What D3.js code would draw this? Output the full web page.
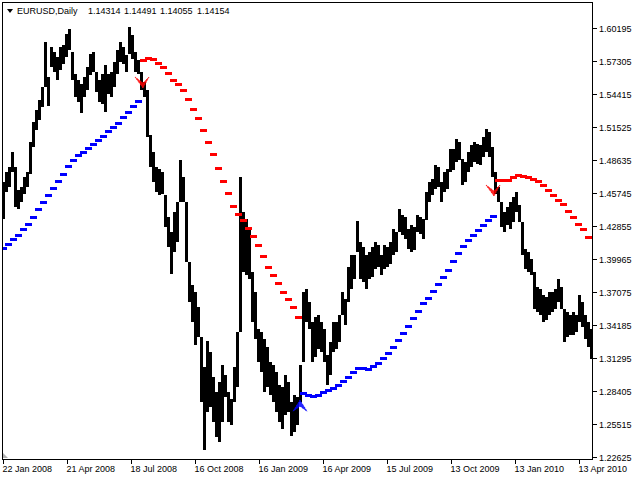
<!DOCTYPE html>
<html><head><meta charset="utf-8">
<script src="https://cdn.jsdelivr.net/npm/d3@7"></script>
<style>html,body{margin:0;padding:0;background:#fff;}svg{display:block;}</style>
</head><body>
<svg id="chart" width="640" height="480"></svg>
<script>
// ---- data ----
const symbolTitle = "EURUSD,Daily";
const headerValues = ["1.14314", "1.14491", "1.14055", "1.14154"];
const barsPerSample = 3;   // each sample below covers 3 daily bars
const priceHigh = [1.4670,1.4758,1.4802,1.4933,1.4802,1.4600,1.4626,1.4714,1.4758,1.5021,1.5196,1.5301,1.5388,1.5502,1.5897,1.5590,1.5853,1.5809,1.5765,1.5853,1.5870,1.5967,1.6010,1.5809,1.5616,1.5564,1.5529,1.5590,1.5678,1.5791,1.5809,1.5634,1.5564,1.5616,1.5695,1.5616,1.5634,1.5721,1.5826,1.5897,1.5853,1.5783,1.6028,1.5958,1.5809,1.5739,1.5634,1.5546,1.5476,1.5082,1.4933,1.4802,1.4784,1.4758,1.4556,1.4364,1.4232,1.4407,1.4495,1.4863,1.4714,1.4495,1.3969,1.3768,1.3707,1.3575,1.3312,1.3050,1.3277,1.3181,1.2962,1.2831,1.2918,1.3067,1.2980,1.2831,1.2769,1.3050,1.3356,1.4714,1.4407,1.4346,1.4258,1.3882,1.3707,1.3382,1.3356,1.3295,1.3225,1.3093,1.3067,1.3006,1.2892,1.2874,1.2980,1.2918,1.2743,1.2804,1.2787,1.3067,1.3707,1.3733,1.3619,1.3444,1.3488,1.3505,1.3444,1.3382,1.3155,1.3269,1.3444,1.3444,1.3505,1.3707,1.3645,1.3926,1.4031,1.4031,1.4329,1.4145,1.4101,1.4031,1.4057,1.4101,1.4145,1.4118,1.4031,1.4118,1.4101,1.4145,1.4258,1.4232,1.4434,1.4381,1.4364,1.4258,1.4294,1.4276,1.4381,1.4364,1.4346,1.4583,1.4670,1.4697,1.4819,1.4802,1.4670,1.4758,1.4784,1.4959,1.4959,1.5047,1.5021,1.4872,1.4845,1.4933,1.4994,1.5021,1.5003,1.4994,1.5064,1.5134,1.5108,1.4977,1.4758,1.4626,1.4495,1.4407,1.4451,1.4495,1.4539,1.4583,1.4469,1.4320,1.4083,1.4057,1.3996,1.3882,1.3750,1.3733,1.3680,1.3663,1.3707,1.3707,1.3733,1.3820,1.3750,1.3558,1.3531,1.3505,1.3531,1.3505,1.3680,1.3619,1.3505,1.3444,1.3382];
const priceLow = [1.4346,1.4583,1.4626,1.4758,1.4451,1.4434,1.4495,1.4565,1.4626,1.4740,1.4977,1.5126,1.5213,1.5327,1.5502,1.5336,1.5678,1.5634,1.5564,1.5651,1.5704,1.5765,1.5826,1.5564,1.5415,1.5371,1.5275,1.5415,1.5476,1.5607,1.5634,1.5459,1.5371,1.5353,1.5283,1.5441,1.5415,1.5502,1.5616,1.5721,1.5704,1.5634,1.5791,1.5748,1.5634,1.5616,1.5476,1.5415,1.5065,1.4802,1.4670,1.4583,1.4556,1.4565,1.4276,1.4101,1.3864,1.4057,1.4145,1.4495,1.4495,1.3969,1.3619,1.3444,1.3242,1.3312,1.2743,1.2322,1.2655,1.2699,1.2568,1.2436,1.2393,1.2568,1.2787,1.2568,1.2541,1.2743,1.2874,1.3356,1.3882,1.3855,1.3820,1.3444,1.3295,1.3093,1.3006,1.2831,1.2874,1.2804,1.2743,1.2655,1.2568,1.2507,1.2629,1.2655,1.2445,1.2480,1.2541,1.2743,1.3093,1.3444,1.3382,1.3093,1.3137,1.3207,1.3181,1.3093,1.2892,1.2980,1.3181,1.3207,1.3269,1.3505,1.3418,1.3619,1.3733,1.3820,1.4057,1.3820,1.3794,1.3733,1.3820,1.3838,1.3908,1.3926,1.3855,1.3908,1.3926,1.3952,1.4031,1.4057,1.4232,1.4206,1.4171,1.4083,1.4057,1.4075,1.4232,1.4215,1.4171,1.4337,1.4495,1.4556,1.4609,1.4626,1.4495,1.4583,1.4609,1.4758,1.4775,1.4845,1.4863,1.4644,1.4670,1.4758,1.4802,1.4845,1.4828,1.4819,1.4889,1.4933,1.4889,1.4714,1.4565,1.4495,1.4276,1.4232,1.4294,1.4258,1.4320,1.4407,1.4320,1.4031,1.3908,1.3882,1.3855,1.3558,1.3531,1.3505,1.3444,1.3461,1.3505,1.3531,1.3558,1.3619,1.3558,1.3269,1.3312,1.3330,1.3330,1.3356,1.3444,1.3400,1.3295,1.3225,1.3120];

const dashEveryBars = 5;  // indicator value every 5 bars, first at bar 1
const trendValues = [1.4092,1.4127,1.4171,1.4206,1.4258,1.4302,1.4364,1.4434,1.4495,1.4556,1.4618,1.4679,1.4740,1.4810,1.4863,1.4907,1.4933,1.4968,1.5003,1.5038,1.5073,1.5117,1.5152,1.5187,1.5240,1.5283,1.5336,1.5380,
  1.5739,1.5756,1.5748,1.5713,1.5678,1.5625,1.5564,1.5529,1.5476,1.5397,1.5310,1.5231,1.5126,1.5021,1.4916,1.4793,1.4679,1.4574,1.4460,1.4390,1.4337,1.4267,1.4197,1.4118,1.4022,1.3926,1.3855,1.3785,1.3707,1.3645,1.3575,1.3488,
  1.2822,1.2804,1.2796,1.2804,1.2831,1.2848,1.2866,1.2892,1.2927,1.2962,1.3006,1.3041,1.3041,1.3032,1.3058,1.3085,1.3128,1.3172,1.3225,1.3286,1.3347,1.3409,1.3479,1.3540,1.3610,1.3654,1.3715,1.3777,1.3838,1.3899,1.3978,1.4048,1.4110,1.4162,1.4206,1.4250,1.4294,1.4337,1.4372,
  1.4688,1.4688,1.4688,1.4714,1.4732,1.4723,1.4714,1.4697,1.4679,1.4644,1.4600,1.4556,1.4513,1.4478,1.4416,1.4364,1.4302,1.4258,1.4188];
const segmentStarts = [0, 28, 60, 99];
const segmentTrend = ["up", "down", "up", "down"];

const arrowBars = [141, 298, 492];
const arrowPrices = [1.5494, 1.2760, 1.4548];
const arrowTrend = ["down", "up", "down"];

const yTickValues = [1.60195,1.57305,1.54415,1.51525,1.48635,1.45745,1.42855,1.39965,1.37075,1.34185,1.31295,1.28405,1.25515,1.22625];
const xTickBars = [1, 65, 129, 193, 257, 321, 385, 449, 513, 577];
const xTickLabels = ["22 Jan 2008","21 Apr 2008","18 Jul 2008","16 Oct 2008","16 Jan 2009","16 Apr 2009","15 Jul 2009","13 Oct 2009","13 Jan 2010","13 Apr 2010"];

const trendColor = {up: "#0000ff", down: "#ff0000"};

// ---- drawing ----
const svg = d3.select("#chart");
const plot = {left: 2, top: 2, right: 593, bottom: 459};
const x = d3.scaleLinear().domain([0, 591]).range([plot.left, plot.right]);
const y = d3.scaleLinear().domain([1.22450, 1.62472]).range([plot.bottom, plot.top]);
const font = "'Liberation Sans', Arial, sans-serif";

svg.append("rect").attr("width", 640).attr("height", 480).attr("fill", "#fff");

svg.append("defs").append("clipPath").attr("id", "clip")
  .append("rect").attr("x", plot.left).attr("y", plot.top)
  .attr("width", plot.right - plot.left).attr("height", plot.bottom - plot.top);

const g = svg.append("g").attr("clip-path", "url(#clip)");

// price bars (high-low ranges)
g.append("g").attr("shape-rendering", "crispEdges").selectAll("rect")
  .data(priceHigh.map((h, i) => ({i, h, l: priceLow[i]})))
  .join("rect")
  .attr("x", d => x(d.i * barsPerSample))
  .attr("width", d => x((d.i + 1) * barsPerSample) - x(d.i * barsPerSample))
  .attr("y", d => Math.round(y(d.h)))
  .attr("height", d => Math.max(1, Math.round(y(d.l)) - Math.round(y(d.h))))
  .attr("fill", "#000");

// indicator dashes
const dashData = trendValues.map((v, j) => {
  let s = 0;
  segmentStarts.forEach((st, si) => { if (j >= st) s = si; });
  return {bar: 1 + j * dashEveryBars, v, trend: segmentTrend[s]};
});
g.append("g").attr("shape-rendering", "crispEdges").selectAll("rect")
  .data(dashData).join("rect")
  .attr("x", d => Math.round(x(d.bar)) - 3)
  .attr("width", 7)
  .attr("y", d => Math.round(y(d.v)) - 1)
  .attr("height", 3)
  .attr("fill", d => trendColor[d.trend]);

// signal arrows
g.append("g").selectAll("path")
  .data(arrowBars.map((b, i) => ({b, p: arrowPrices[i], t: arrowTrend[i]})))
  .join("path")
  .attr("transform", d => `translate(${x(d.b)},${y(d.p)})`)
  .attr("d", d => d.t === "down"
      ? "M0,0 L-8,-11 L0,-5 L6,-11 Z"
      : "M0,0 L-7,11 L0,6 L7,11 Z")
  .attr("fill", d => trendColor[d.t])
  .attr("fill-opacity", 0.85)
  .attr("stroke", d => trendColor[d.t])
  .attr("stroke-width", 1)
  .attr("stroke-dasharray", "1,1");

// frame
svg.append("rect").attr("x", plot.left + 0.5).attr("y", plot.top + 0.5)
  .attr("width", plot.right - plot.left - 1).attr("height", plot.bottom - plot.top)
  .attr("fill", "none").attr("stroke", "#000").attr("stroke-width", 1);

// y axis (right)
const ya = svg.append("g").attr("font-family", font).attr("font-size", 9);
yTickValues.forEach(v => {
  const yy = Math.round(y(v)) + 0.5;
  ya.append("line").attr("x1", plot.right).attr("x2", plot.right + 4)
    .attr("y1", yy).attr("y2", yy).attr("stroke", "#000");
  ya.append("text").attr("x", plot.right + 6).attr("y", yy).attr("dy", "0.35em")
    .attr("fill", "#000").text(v.toFixed(5));
});

// x axis (bottom)
const xa = svg.append("g").attr("font-family", font).attr("font-size", 9);
xTickBars.forEach((b, i) => {
  const xx = Math.round(x(b)) + 0.5;
  xa.append("line").attr("x1", xx).attr("x2", xx)
    .attr("y1", plot.bottom).attr("y2", plot.bottom + 5).attr("stroke", "#000");
  xa.append("text").attr("x", xx - 1).attr("y", 472).attr("fill", "#000").text(xTickLabels[i]);
});

// scroll marker bottom-left
svg.append("path").attr("d", "M3,453 L3,458 L8,458 Z").attr("fill", "#b0b0b0");

// header
svg.append("path").attr("d", "M7,9 L13,9 L10,13 Z").attr("fill", "#000");
const hdr = svg.append("g").attr("font-family", font).attr("font-size", 9).attr("fill", "#000");
hdr.append("text").attr("x", 17).attr("y", 14).text(symbolTitle);
const hx = [88, 124, 160, 197];
headerValues.forEach((v, i) => hdr.append("text").attr("x", hx[i]).attr("y", 14).text(v));
</script>
</body></html>
